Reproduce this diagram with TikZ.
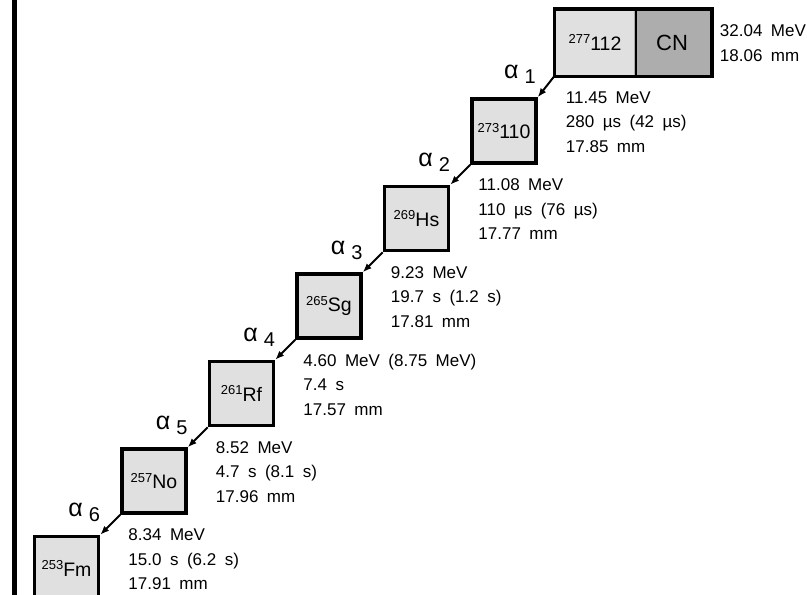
\documentclass[tikz,border=0pt]{standalone}
\usepackage{fontspec}
\setmainfont{Liberation Sans}[WordSpace=1.8]
\usetikzlibrary{arrows.meta}

\definecolor{boxgray}{gray}{0.88}
\definecolor{cngray}{gray}{0.68}

\newcommand{\iso}[2]{{\fontsize{13}{14}\selectfont\raisebox{6.5pt}{#1}}#2}
\newcommand{\alphan}[1]{{\fontsize{25}{26}\selectfont α}\hspace{6pt}\raisebox{-5pt}{#1}}

\begin{document}
\begin{tikzpicture}[x=1pt, y=-1pt,
    nuc/.style={draw, line width=3.5pt, fill=boxgray, minimum width=64pt, minimum height=64pt, inner sep=0pt, font=\fontsize{19.5}{22}\selectfont},
    info/.style={anchor=north west, align=left, inner sep=0pt, font=\fontsize{17}{24.5}\selectfont},
    decay/.style={line width=2pt, -{Latex[length=9pt,width=7pt]}},
    alab/.style={font=\fontsize{20}{22}\selectfont, inner sep=0pt}]
    \useasboundingbox (0,0) rectangle (807,595);

    % Left frame line
    \draw[line width=5pt] (14.5,0) -- (14.5,595);

    % Compound nucleus (two halves)
    \node[nuc, draw=none, minimum width=78pt] (n112) at (595,42.5) {\iso{277}{112}};
    \node[nuc, draw=none, fill=cngray, minimum width=76pt, font=\fontsize{22}{24}\selectfont] (cn) at (672,42.5) {CN};
    \draw[line width=3.5pt] (n112.north west) rectangle (cn.south east);
    \draw[line width=2pt] (n112.north east) -- (n112.south east);
    \node[info, xshift=8pt, yshift=-16pt] (i112) at (cn.north east) {32.04 MeV\\18.06 mm};

    % Daughters
    \node[nuc] (n110) at (504,131) {\iso{273}{110}};
    \node[nuc] (nhs) at (416.5,218.5) {\iso{269}{Hs}};
    \node[nuc] (nsg) at (329,306) {\iso{265}{Sg}};
    \node[nuc] (nrf) at (241.5,393.5) {\iso{261}{Rf}};
    \node[nuc] (nno) at (154,481) {\iso{257}{No}};
    \node[nuc] (nfm) at (66.5,568.5) {\iso{253}{Fm}};

    % Decay data
    \node[info, xshift=28pt, yshift=6pt] (i110) at (n110.north east) {11.45 MeV\\280 µs (42 µs)\\17.85 mm};
    \node[info, xshift=28pt, yshift=6pt] (ihs) at (nhs.north east) {11.08 MeV\\110 µs (76 µs)\\17.77 mm};
    \node[info, xshift=28pt, yshift=6pt] (isg) at (nsg.north east) {9.23 MeV\\19.7 s (1.2 s)\\17.81 mm};
    \node[info, xshift=28pt, yshift=6pt] (irf) at (nrf.north east) {4.60 MeV (8.75 MeV)\\7.4 s\\17.57 mm};
    \node[info, xshift=28pt, yshift=6pt] (ino) at (nno.north east) {8.52 MeV\\4.7 s (8.1 s)\\17.96 mm};
    \node[info, xshift=28pt, yshift=6pt] (ifm) at (nfm.north east) {8.34 MeV\\15.0 s (6.2 s)\\17.91 mm};

    % Alpha decays
    \draw[decay] (n112.south west) -- (n110.north east) node[alab, midway, xshift=-26pt, yshift=12pt] {\alphan{1}};
    \draw[decay] (n110.south west) -- (nhs.north east) node[alab, midway, xshift=-26pt, yshift=12pt] {\alphan{2}};
    \draw[decay] (nhs.south west) -- (nsg.north east) node[alab, midway, xshift=-26pt, yshift=12pt] {\alphan{3}};
    \draw[decay] (nsg.south west) -- (nrf.north east) node[alab, midway, xshift=-26pt, yshift=12pt] {\alphan{4}};
    \draw[decay] (nrf.south west) -- (nno.north east) node[alab, midway, xshift=-26pt, yshift=12pt] {\alphan{5}};
    \draw[decay] (nno.south west) -- (nfm.north east) node[alab, midway, xshift=-26pt, yshift=12pt] {\alphan{6}};
\end{tikzpicture}
\end{document}
